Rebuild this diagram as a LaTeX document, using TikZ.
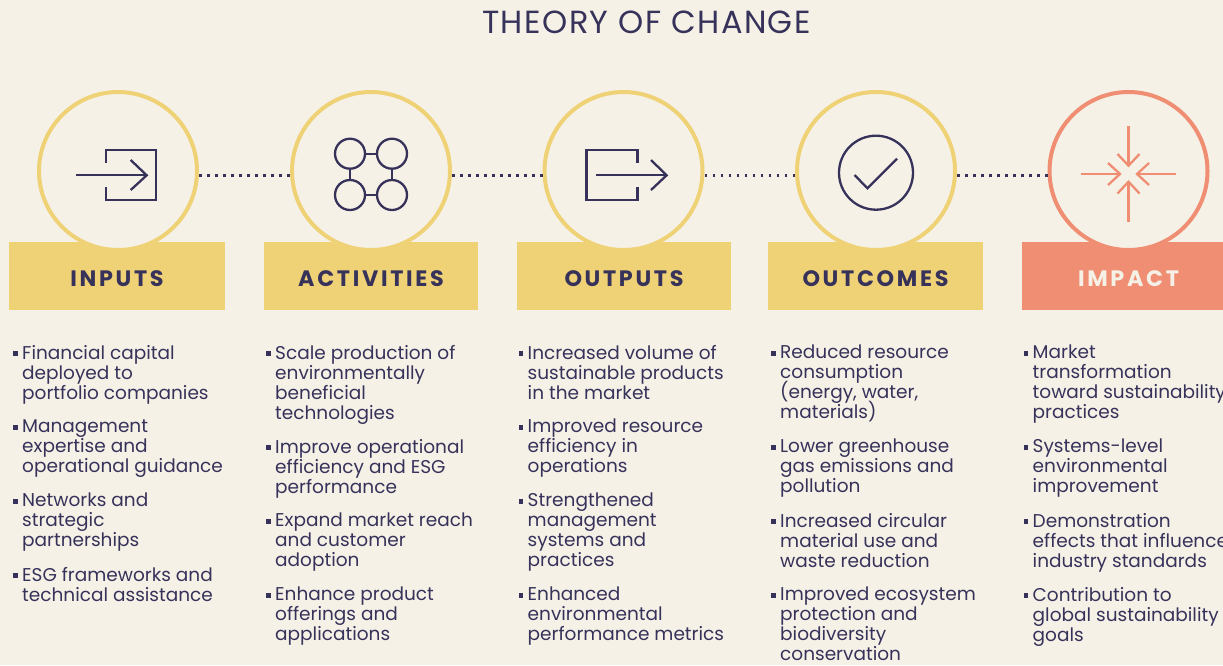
\documentclass[tikz,border=0pt]{standalone}
\usepackage{fontspec}
\setmainfont{Poppins}
\newfontfamily\headfont[LetterSpace=12]{Poppins}
\newfontfamily\titlefont[LetterSpace=4.5]{Poppins}
\definecolor{cream}{HTML}{F6F1E7}
\definecolor{sand}{HTML}{EFD176}
\definecolor{salmon}{HTML}{EF8E72}
\definecolor{ink}{HTML}{36325A}
\tikzset{
    ring/.style={circle, draw=#1, line width=4pt, fill=cream, minimum size=158pt, inner sep=0pt},
    stage/.style={fill=#1, minimum height=68pt, inner sep=0pt, text height=26pt, text depth=4.6pt, font=\headfont\fontsize{22.3}{24}\selectfont\bfseries},
    entry/.style={anchor=north west, inner sep=0pt, align=left, text=ink, font=\fontsize{18.5}{20}\selectfont, execute at begin node={\lineskiplimit=-10pt\relax\strut}},
    icon/.style={line width=2.3pt, draw=ink},
    dots/.style={ink, line width=2.8pt, dash pattern=on 2.8pt off 5.2pt},
}
\begin{document}
\begin{tikzpicture}[x=1pt, y=-1pt]
    \fill[cream] (0,0) rectangle (1223,665);
    \useasboundingbox (0,0) rectangle (1223,665);
    \node[text=ink, font=\titlefont\fontsize{32}{36}\selectfont] (title) at (646.5,22.5) {THEORY OF CHANGE};
    % header boxes
    \node[stage=sand, text=ink, minimum width=216pt] (b1) at (117,276) {INPUTS};
    \node[stage=sand, text=ink, minimum width=214pt] (b2) at (371,276) {ACTIVITIES};
    \node[stage=sand, text=ink, minimum width=214pt] (b3) at (624,276) {OUTPUTS};
    \node[stage=sand, text=ink, minimum width=215pt] (b4) at (875.5,276) {OUTCOMES};
    \node[stage=salmon, text=cream, minimum width=213pt] (b5) at (1128.5,276) {IMPACT};
    % circles
    \foreach \i/\x in {1/118,2/371,3/623.5,4/876}
    {
    \node[ring=sand] (c\i) at (\x,171) {};
    }
    \node[ring=salmon] (c5) at (1128.5,171) {};
    \foreach \i/\j in {1/2,2/3,3/4,4/5}
    {
    \draw[dots] ([yshift=-4.7pt]c\i.east) -- ([yshift=-4.7pt]c\j.west);
    }
    % icons
    \draw[icon] (105.7,163) -- (105.7,150) -- (156.3,150) -- (156.3,200) -- (105.7,200) -- (105.7,187);
    \draw[icon] (76,175.3) -- (146.7,175.3);
    \draw[icon] (130.7,160) -- (146.7,175.3) -- (130.7,190);
    \foreach \i/\x/\y in {1/350/153.7,2/392/153.7,3/350/195,4/392/195}
    {
    \node[circle, icon, minimum size=30pt, inner sep=0pt] (n\i) at (\x,\y) {};
    }
    \foreach \i/\j in {1/2,3/4,1/3,2/4}
    {
    \draw[icon] (n\i) -- (n\j);
    }
    \draw[icon] (637.5,163) -- (637.5,150) -- (586.5,150) -- (586.5,200) -- (637.5,200) -- (637.5,187);
    \draw[icon] (596,175.3) -- (666.6,175.3);
    \draw[icon] (651,160) -- (666.6,175.3) -- (651,190);
    \node[circle, icon, minimum size=74pt, inner sep=0pt] (tick) at (876,172.7) {};
    \draw[icon] (854.5,175) -- (867.5,188.3) -- (897,158.7);
    \draw[icon, salmon] (1128.5,126) -- (1128.5,165.7);
    \draw[icon, salmon] (1117.5,154) -- (1128.5,165.7) -- (1139.5,154);
    \draw[icon, salmon] (1128.5,221.7) -- (1128.5,181.7);
    \draw[icon, salmon] (1117.5,193.5) -- (1128.5,181.7) -- (1139.5,193.5);
    \draw[icon, salmon] (1081,174) -- (1120,174);
    \draw[icon, salmon] (1108,163) -- (1120,174) -- (1108,185);
    \draw[icon, salmon] (1176,174) -- (1137,174);
    \draw[icon, salmon] (1149,163) -- (1137,174) -- (1149,185);
    % lists
    \foreach \x/\y/\item in {
        22/345/{Financial capital\\deployed to\\portfolio companies},
        22/419/{Management\\expertise and\\operational guidance},
        22/493/{Networks and\\strategic\\partnerships},
        22/567/{ESG frameworks and\\technical assistance},
        275/345/{Scale production of\\environmentally\\beneficial\\technologies},
        275/439/{Improve operational\\efficiency and ESG\\performance},
        275/513/{Expand market reach\\and customer\\adoption},
        275/587/{Enhance product\\offerings and\\applications},
        527.5/345/{Increased volume of\\sustainable products\\in the market},
        527.5/419/{Improved resource\\efficiency in\\operations},
        527.5/493/{Strengthened\\management\\systems and\\practices},
        527.5/587/{Enhanced\\environmental\\performance metrics},
        780/345/{Reduced resource\\consumption\\(energy, water,\\materials)},
        780/439/{Lower greenhouse\\gas emissions and\\pollution},
        780/513/{Increased circular\\material use and\\waste reduction},
        780/587/{Improved ecosystem\\protection and\\biodiversity\\conservation},
        1032.5/345/{Market\\transformation\\toward sustainability\\practices},
        1032.5/439/{Systems-level\\environmental\\improvement},
        1032.5/513/{Demonstration\\effects that influence\\industry standards},
        1032.5/587/{Contribution to\\global sustainability\\goals}}
    {
    \node[entry] at (\x,\y) {\item};
    \fill[ink] (\x-8.7,\y+6.2) rectangle (\x-4.2,\y+10.7);
    }
\end{tikzpicture}
\end{document}
